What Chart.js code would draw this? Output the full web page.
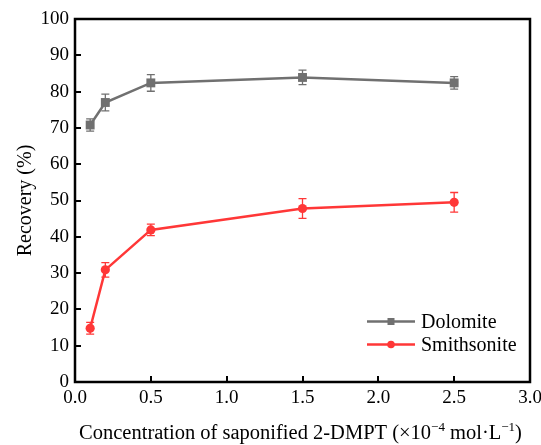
<!DOCTYPE html>
<html>
<head>
<meta charset="utf-8">
<script src="https://cdn.jsdelivr.net/npm/chart.js@4"></script>
<style>
html,body{margin:0;padding:0;background:#fff;}
#wrap{width:541px;height:445px;position:relative;}
</style>
</head>
<body>
<div id="wrap"><canvas id="c" width="541" height="445"></canvas></div>
<script>
// ---- data ----
const concentrations = [0.1, 0.2, 0.5, 1.5, 2.5];
const dolomite = [70.8, 77.0, 82.4, 83.9, 82.4];
const dolomiteErr = [1.7, 2.3, 2.3, 2.0, 1.7];
const smithsonite = [14.8, 30.9, 41.9, 47.8, 49.5];
const smithsoniteErr = [1.6, 2.0, 1.6, 2.7, 2.7];
const seriesNames = ['Dolomite', 'Smithsonite'];
const xTicks = [0.0, 0.5, 1.0, 1.5, 2.0, 2.5, 3.0];
const yTicks = [0, 10, 20, 30, 40, 50, 60, 70, 80, 90, 100];

const GRAY = 'rgb(112,112,112)';
const RED = 'rgb(255,55,55)';
const FONT = '"Liberation Serif", "Times New Roman", serif';
Chart.defaults.font.family = FONT;
Chart.defaults.color = '#000';

function pts(ys){ return concentrations.map((x,i)=>({x:x,y:ys[i]})); }

const errPlugin = {
  id:'errbars',
  beforeDatasetsDraw(chart){
    const ctx=chart.ctx, xs=chart.scales.x, ys=chart.scales.y;
    const sets=[[dolomite,dolomiteErr,GRAY],[smithsonite,smithsoniteErr,RED]];
    ctx.save();
    sets.forEach(([v,e,col])=>{
      ctx.strokeStyle=col; ctx.lineWidth=1.3;
      concentrations.forEach((c,i)=>{
        const px=xs.getPixelForValue(c);
        const top=ys.getPixelForValue(v[i]+e[i]);
        const bot=ys.getPixelForValue(v[i]-e[i]);
        ctx.beginPath();
        ctx.moveTo(px,top); ctx.lineTo(px,bot);
        ctx.moveTo(px-4,top); ctx.lineTo(px+4,top);
        ctx.moveTo(px-4,bot); ctx.lineTo(px+4,bot);
        ctx.stroke();
      });
    });
    ctx.restore();
  }
};

const framePlugin = {
  id:'frame',
  afterDraw(chart){
    const ctx=chart.ctx, a=chart.chartArea, xs=chart.scales.x, ys=chart.scales.y;
    ctx.save();
    ctx.strokeStyle='#000';
    ctx.lineWidth=2;
    // ticks inward
    ctx.beginPath();
    xTicks.forEach(t=>{
      const px=Math.round(xs.getPixelForValue(t));
      ctx.moveTo(px,a.bottom); ctx.lineTo(px,a.bottom-6);
    });
    yTicks.forEach(t=>{
      const py=Math.round(ys.getPixelForValue(t));
      ctx.moveTo(a.left,py); ctx.lineTo(a.left+6,py);
    });
    ctx.stroke();
    ctx.lineWidth=2.5;
    ctx.strokeRect(a.left,a.top,a.right-a.left,a.bottom-a.top);

    // legend
    const items=[[seriesNames[0],GRAY,'rect'],[seriesNames[1],RED,'circle']];
    const lx0=a.right-163, lx1=a.right-115, tx=a.right-109;
    ctx.font='20px '+FONT;
    ctx.textBaseline='middle';
    items.forEach(([name,col,shape],i)=>{
      const y=a.bottom-60.5+i*23;
      ctx.strokeStyle=col; ctx.lineWidth=2.5;
      ctx.beginPath(); ctx.moveTo(lx0,y); ctx.lineTo(lx1,y); ctx.stroke();
      ctx.fillStyle=col;
      const cx=(lx0+lx1)/2;
      if(shape==='rect'){ ctx.fillRect(cx-3.5,y-3.5,7,7); }
      else { ctx.beginPath(); ctx.arc(cx,y,3.8,0,Math.PI*2); ctx.fill(); }
      ctx.fillStyle='#000';
      ctx.textAlign='left';
      ctx.fillText(name,tx,y+1);
    });

    // x-axis title with superscripts
    const parts=[['Concentration of saponified 2-DMPT (\u00d710',0],['\u22124',1],[' mol\u00b7L',0],['\u22121',1],[')',0]];
    const big='20.5px '+FONT, small='13px '+FONT;
    let w=0;
    parts.forEach(([s,sup])=>{ctx.font=sup?small:big; w+=ctx.measureText(s).width;});
    let x=300.5-w/2;
    const base=439;
    ctx.textBaseline='alphabetic'; ctx.textAlign='left'; ctx.fillStyle='#000';
    parts.forEach(([s,sup])=>{
      ctx.font=sup?small:big;
      ctx.fillText(s,x,sup?base-8:base);
      x+=ctx.measureText(s).width;
    });
    ctx.restore();
  }
};

new Chart(document.getElementById('c'),{
  type:'line',
  data:{
    datasets:[
      {label:seriesNames[0],data:pts(dolomite),borderColor:GRAY,backgroundColor:GRAY,borderWidth:2.5,
       pointStyle:'rect',pointRadius:6.3,pointHoverRadius:6.3,pointBorderWidth:0,tension:0},
      {label:seriesNames[1],data:pts(smithsonite),borderColor:RED,backgroundColor:RED,borderWidth:2.5,
       pointStyle:'circle',pointRadius:4.6,pointHoverRadius:4.6,pointBorderWidth:0,tension:0}
    ]
  },
  options:{
    responsive:false,animation:false,
    layout:{padding:{left:0,right:11,top:19,bottom:0}},
    plugins:{legend:{display:false},tooltip:{enabled:false}},
    scales:{
      x:{type:'linear',min:0,max:3,
        afterBuildTicks(s){s.ticks=xTicks.map(v=>({value:v}));},
        afterFit(s){s.height=63; s.paddingLeft=0; s.paddingRight=0;},
        grid:{display:false,drawTicks:false},border:{display:false},
        ticks:{padding:5,color:'#000',font:{family:FONT,size:19},callback:v=>v.toFixed(1),maxRotation:0,autoSkip:false}
      },
      y:{type:'linear',min:0,max:100,
        afterBuildTicks(s){s.ticks=yTicks.map(v=>({value:v}));},
        afterFit(s){s.width=75; s.paddingTop=0; s.paddingBottom=0;},
        grid:{display:false,drawTicks:false},border:{display:false},
        title:{display:true,text:'Recovery (%)',color:'#000',font:{family:FONT,size:20},padding:{top:14,bottom:0}},
        ticks:{padding:6,color:'#000',font:{family:FONT,size:19}}
      }
    }
  },
  plugins:[errPlugin,framePlugin]
});
</script>
</body>
</html>
